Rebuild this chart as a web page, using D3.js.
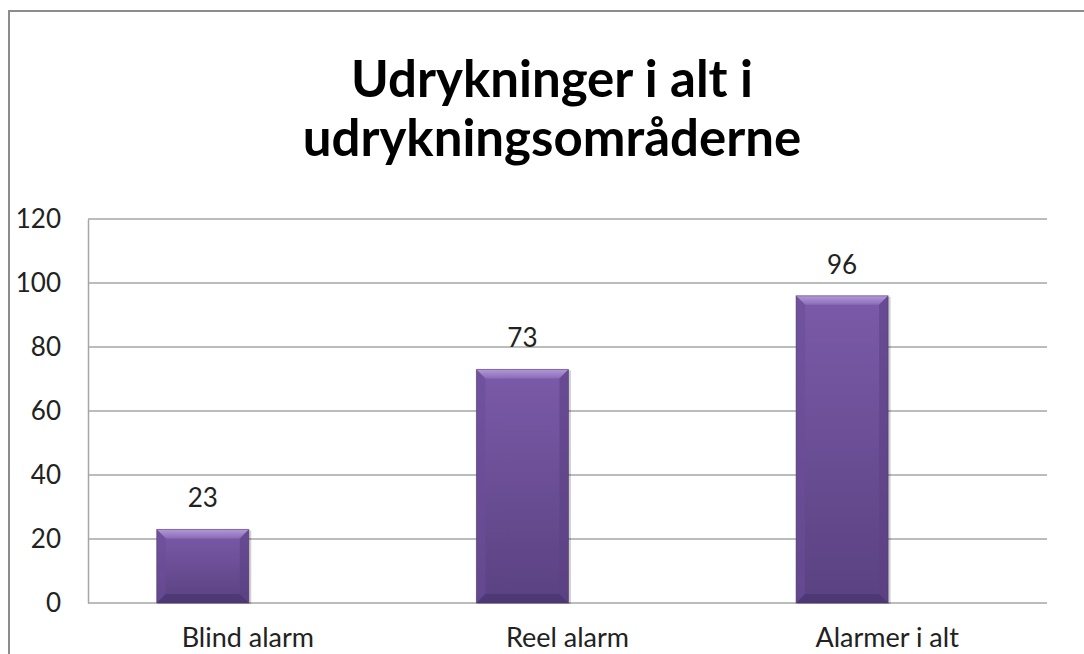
<!DOCTYPE html>
<html>
<head>
<meta charset="utf-8">
<script src="https://cdn.jsdelivr.net/npm/d3@7"></script>
<style>
  html, body { margin: 0; padding: 0; background: #fff; }
  svg { display: block; }
</style>
</head>
<body>
<svg id="chart" width="1084" height="654"></svg>
<script>
const titleLines = ["Udrykninger i alt i", "udrykningsområderne"];
const categories = ["Blind alarm", "Reel alarm", "Alarmer i alt"];
const values = [23, 73, 96];
const yTicks = [0, 20, 40, 60, 80, 100, 120];

const W = 1084, H = 654;
const svg = d3.select("#chart");
const font = "Lato, 'Open Sans', sans-serif";

// chart frame
svg.append("rect").attr("x", 9).attr("y", 11).attr("width", W + 20).attr("height", H + 20)
  .attr("fill", "#fff").attr("stroke", "#8c8c8c").attr("stroke-width", 2);

const plot = { left: 88, right: 1047, top: 219, bottom: 603 };

const y = d3.scaleLinear().domain([0, 120]).range([plot.bottom, plot.top]);
const x = d3.scaleBand().domain(categories).range([plot.left, plot.right]).padding(0);

// gridlines
svg.append("g").selectAll("line").data(yTicks).join("line")
  .attr("x1", plot.left).attr("x2", plot.right)
  .attr("y1", d => y(d)).attr("y2", d => y(d))
  .attr("stroke", "#a6a6a6").attr("stroke-width", 1.5);

// y axis
const yAxis = d3.axisLeft(y).tickValues(yTicks).tickSize(0).tickPadding(27);
const gy = svg.append("g").attr("transform", `translate(${plot.left},0)`).call(yAxis);
gy.select(".domain").attr("stroke", "#a6a6a6").attr("stroke-width", 1.5);
gy.selectAll("text").attr("font-family", font).attr("font-size", 26).attr("fill", "#222");

// x axis labels
const xAxis = d3.axisBottom(x).tickSize(0).tickPadding(25);
const gx = svg.append("g").attr("transform", `translate(0,${plot.bottom})`).call(xAxis);
gx.select(".domain").remove();
gx.selectAll("text").attr("font-family", font).attr("font-size", 27).attr("fill", "#222");

// gradients
const defs = svg.append("defs");
const g1 = defs.append("linearGradient").attr("id", "barGrad").attr("x1", 0).attr("y1", 0).attr("x2", 0).attr("y2", 1);
g1.append("stop").attr("offset", "0%").attr("stop-color", "#7b5aa9");
g1.append("stop").attr("offset", "100%").attr("stop-color", "#5a4281");
const g2 = defs.append("linearGradient").attr("id", "topGrad").attr("x1", 0).attr("y1", 0).attr("x2", 0).attr("y2", 1);
g2.append("stop").attr("offset", "0%").attr("stop-color", "#b299d9");
g2.append("stop").attr("offset", "100%").attr("stop-color", "#8a6bb8");

const bw = x.bandwidth();
const barW = bw * 0.288;
const barOff = bw * 0.215;
const bev = 9;

const bars = svg.append("g").selectAll("g").data(values).join("g");
bars.each(function(v, i) {
  const g = d3.select(this);
  const x0 = x(categories[i]) + barOff, x1 = x0 + barW;
  const y0 = y(v), y1 = y(0);
  // shadow
  g.append("rect").attr("x", x0 + 1).attr("y", y0 + 1).attr("width", barW + 1.5).attr("height", y1 - y0)
    .attr("fill", "#000").attr("opacity", 0.18);
  g.append("rect").attr("x", x0).attr("y", y0).attr("width", barW).attr("height", y1 - y0)
    .attr("fill", "url(#barGrad)");
  // top bevel
  g.append("polygon").attr("points", [[x0, y0], [x1, y0], [x1 - bev, y0 + bev], [x0 + bev, y0 + bev]].join(" "))
    .attr("fill", "url(#topGrad)");
  // left bevel
  g.append("polygon").attr("points", [[x0, y0], [x0 + bev, y0 + bev], [x0 + bev, y1 - bev], [x0, y1]].join(" "))
    .attr("fill", "#6a4c97").attr("opacity", 0.6);
  // right bevel
  g.append("polygon").attr("points", [[x1, y0], [x1 - bev, y0 + bev], [x1 - bev, y1 - bev], [x1, y1]].join(" "))
    .attr("fill", "#5c4186").attr("opacity", 0.6);
  // bottom bevel
  g.append("polygon").attr("points", [[x0, y1], [x0 + bev, y1 - bev], [x1 - bev, y1 - bev], [x1, y1]].join(" "))
    .attr("fill", "#4a3470").attr("opacity", 0.75);
  // outline
  g.append("rect").attr("x", x0).attr("y", y0).attr("width", barW).attr("height", y1 - y0)
    .attr("fill", "none").attr("stroke", "#4b3a66").attr("stroke-opacity", 0.5).attr("stroke-width", 1);
  // value label
  g.append("text").attr("x", (x0 + x1) / 2).attr("y", y0 - 22)
    .attr("text-anchor", "middle").attr("font-family", font).attr("font-size", 26).attr("fill", "#222")
    .text(v);
});

// title
const title = svg.append("text").attr("text-anchor", "middle").attr("font-family", font)
  .attr("font-weight", "bold").attr("font-size", 51).attr("fill", "#000");
title.selectAll("tspan").data(titleLines).join("tspan")
  .attr("x", 552).attr("y", (d, i) => 97 + i * 59).text(d => d);
</script>
</body>
</html>
